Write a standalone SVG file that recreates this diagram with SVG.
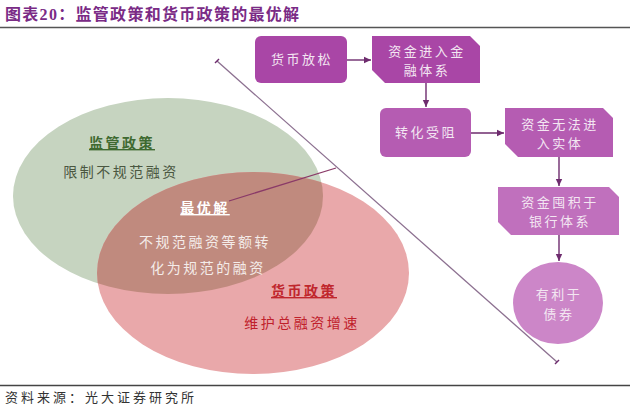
<svg xmlns="http://www.w3.org/2000/svg" width="640" height="412" viewBox="0 0 640 412">
<style>
.cjk{font-family:"Liberation Serif","Noto Sans CJK SC",serif}
.box1{fill:#a946a6}
.box2{fill:#b55cb2}
.box3{fill:#c070bd}
.btxt{fill:#f3e6f2;font-size:13px;text-anchor:middle;letter-spacing:2.5px}
.vt{font-size:14px;text-anchor:middle;letter-spacing:2.5px}
.arr{stroke:#6e2c6e;stroke-width:1.4;fill:none;marker-end:url(#ah)}
</style>
<defs>
<marker id="ah" markerWidth="8" markerHeight="8" refX="7" refY="4" orient="auto" markerUnits="userSpaceOnUse">
<path d="M0,0.8 L7,4 L0,7.2 Z" fill="#6e2c6e"/>
</marker>
<clipPath id="gclip"><ellipse cx="168" cy="196" rx="155" ry="98"/></clipPath>
</defs>
<rect width="640" height="412" fill="#ffffff"/>
<g id="title">
<text x="5" y="20" class="cjk" font-size="16" font-weight="bold" fill="#7a2b86" letter-spacing="1.3">图表20：监管政策和货币政策的最优解</text>
<line x1="0" y1="27.5" x2="630" y2="27.5" stroke="#555" stroke-width="1.5"/>
</g>
<g id="venn">
<ellipse id="green" cx="168" cy="196" rx="155" ry="98" fill="#c6d4c0"/>
<ellipse id="red" cx="253" cy="273" rx="156" ry="101" fill="#e9a8aa"/>
<ellipse id="overlap" cx="253" cy="273" rx="156" ry="101" fill="#c08a7e" clip-path="url(#gclip)"/>
</g>
<g id="regulation">
<text x="122" y="148" class="cjk vt" font-weight="bold" fill="#3f6a31" text-decoration="underline">监管政策</text>
<text x="121" y="177" class="cjk vt" fill="#4a5741">限制不规范融资</text>
</g>
<g id="optimal">
<text x="205" y="213" class="cjk vt" font-weight="bold" fill="#ffffff" text-decoration="underline">最优解</text>
<text x="205" y="247" class="cjk vt" fill="#f4ece9" letter-spacing="3">不规范融资等额转</text>
<text x="208" y="273" class="cjk vt" fill="#f4ece9" letter-spacing="3">化为规范的融资</text>
</g>
<g id="monetary">
<text x="304" y="296" class="cjk vt" font-weight="bold" fill="#c0272d" text-decoration="underline">货币政策</text>
<text x="302" y="328" class="cjk vt" fill="#c0202a">维护总融资增速</text>
</g>
<g id="n1">
<rect x="255" y="36" width="92" height="47" rx="6" class="box1"/>
<text x="302" y="64" class="cjk btxt">货币放松</text>
</g>
<g id="n2">
<path d="M372,36 H470 L480,46 V83 H385 L372,70 Z" class="box1"/>
<text x="427" y="56" class="cjk btxt">资金进入金</text>
<text x="427" y="75" class="cjk btxt">融体系</text>
</g>
<g id="n3">
<rect x="380" y="108" width="91" height="49" rx="6" class="box2"/>
<text x="426" y="137" class="cjk btxt">转化受阻</text>
</g>
<g id="n4">
<path d="M505,108 H603 L613,118 V157 H518 L505,144 Z" class="box2"/>
<text x="560" y="129" class="cjk btxt">资金无法进</text>
<text x="560" y="148" class="cjk btxt">入实体</text>
</g>
<g id="n5">
<path d="M498,187 H609 L619,197 V235 H511 L498,222 Z" class="box3"/>
<text x="560" y="207" class="cjk btxt">资金囤积于</text>
<text x="560" y="226" class="cjk btxt">银行体系</text>
</g>
<g id="n6">
<ellipse cx="558" cy="303" rx="45" ry="41" fill="#cc86c8"/>
<text x="559" y="299" class="cjk btxt">有利于</text>
<text x="559" y="319" class="cjk btxt">债券</text>
</g>
<g id="connectors">
<line x1="347" y1="60" x2="371" y2="60" class="arr"/>
<line x1="426" y1="83" x2="426" y2="107" class="arr"/>
<line x1="471" y1="133" x2="504" y2="133" class="arr"/>
<line x1="559" y1="157" x2="559" y2="186" class="arr"/>
<line x1="559" y1="235" x2="559" y2="261" class="arr"/>
<line x1="217" y1="61" x2="557" y2="362" stroke="#8c7090" stroke-width="1.3"/>
<line x1="215" y1="63" x2="219" y2="59" stroke="#6e2c6e" stroke-width="1.5"/>
<line x1="555" y1="364" x2="559" y2="360" stroke="#6e2c6e" stroke-width="1.5"/>
<line x1="229" y1="201" x2="336" y2="168" stroke="#8a3a68" stroke-width="1.3"/>
</g>
<g id="footer">
<line x1="0" y1="385.5" x2="630" y2="385.5" stroke="#444" stroke-width="1.3"/>
<text x="5" y="402" class="cjk" font-size="13" fill="#333" letter-spacing="3">资料来源：光大证券研究所</text>
</g>
</svg>
